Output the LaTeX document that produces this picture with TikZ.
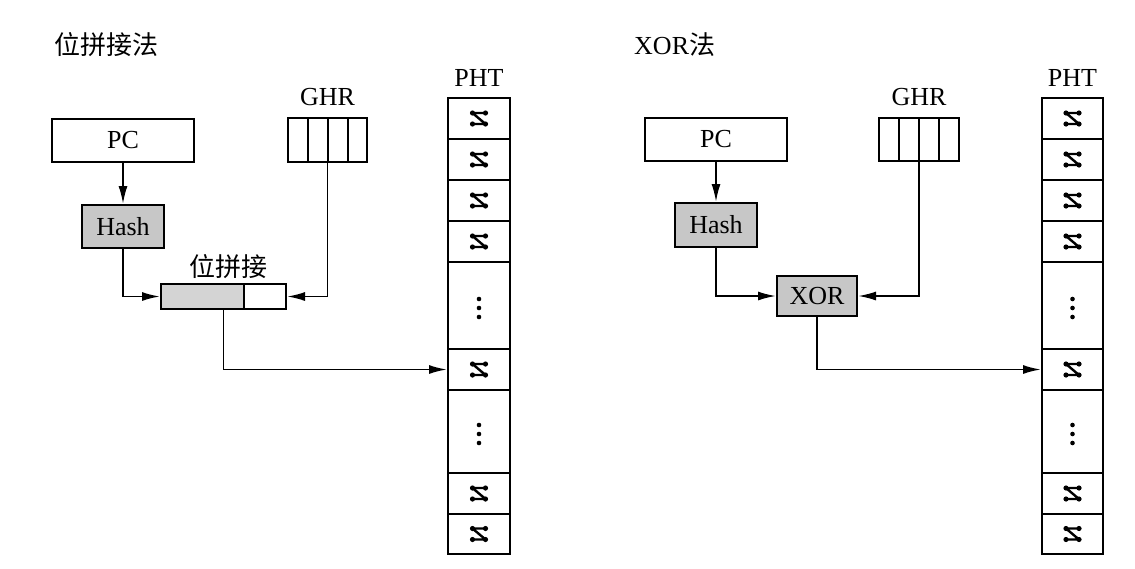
\documentclass[tikz,border=0pt]{standalone}
\usepackage{fontspec}
\setmainfont{Liberation Serif}
\newfontfamily\cjk{Noto Sans CJK SC}
\usetikzlibrary{arrows.meta}
\tikzset{
  pics/ctr/.style={code={
    \draw[line width=2.4pt] (-6.5,-5.5) -- (6.5,-5.5) (-6.5,-5.5) -- (6.5,5.5) (-6.5,5.5) -- (6.5,5.5);
    \fill (-6.5,-5.5) circle (2.6) (6.5,-5.5) circle (2.6) (-6.5,5.5) circle (2.6) (6.5,5.5) circle (2.6);
  }},
  pics/vdots/.style={code={
    \fill (0,-6.5) circle (2.3) (0,2.5) circle (2.3) (0,11.5) circle (2.3);
  }}
}
\begin{document}
\begin{tikzpicture}[x=1pt,y=-1pt,
  box/.style={draw, line width=2pt, rectangle, inner sep=0pt, font=\fontsize{26}{26}\selectfont},
  shadebox/.style={box, fill=black!22},
  cell/.style={draw, line width=2pt, rectangle, inner sep=0pt},
  arr/.style={line width=1.9pt, -{Latex[length=18pt,width=9pt]}},
  lbl/.style={font=\fontsize{26}{26}\selectfont, inner sep=0pt},
  ttl/.style={font=\cjk\fontsize{26}{26}\selectfont, inner sep=0pt, anchor=west},
  thin/.style={line width=2pt}
]
\useasboundingbox[fill=white] (0,0) rectangle (1135,568);

% ---------------- Left: concatenation ----------------
\node[ttl] (t1) at (54,45) {位拼接法};
\node[box, minimum width=142pt, minimum height=43pt] (pc1) at (123,140.5) {PC};
\node[shadebox, minimum width=82pt, minimum height=43pt] (hash1) at (123,226.5) {Hash};
\node[lbl] (ghrl1) at (327.5,97) {GHR};
\node[box, minimum width=79pt, minimum height=44pt] (ghr1) at (327.5,140) {};
\draw[thin] (307.5,118) -- (307.5,162) (327.5,118) -- (327.5,162) (347.5,118) -- (347.5,162);
\fill[black!17] (161,284) rectangle (244,309);
\node[box, minimum width=125pt, minimum height=25pt] (cat) at (223.5,296.5) {};
\draw[thin] (244,284) -- (244,309);
\node[font=\cjk\fontsize{26}{26}\selectfont, inner sep=0pt] (catl) at (228,267) {位拼接};

\node[lbl] (phtl1) at (479,78) {PHT};
\foreach \i/\c/\h in {1/118.5/41, 2/159.5/41, 3/200.5/41, 4/241.5/41, 5/305.5/87, 6/369.5/41, 7/431.5/83, 8/493.5/41, 9/534/40}{
  \node[cell, minimum width=62pt, minimum height=\h pt] (pl\i) at (479,\c) {};
}
\foreach \i in {1,2,3,4,6,8,9}{ \pic at (pl\i) {ctr}; }
\foreach \i in {5,7}{ \pic at (pl\i) {vdots}; }

\draw[arr] (pc1) -- (hash1);
\draw[arr] (hash1.south) |- (cat.west);
\draw[arr] (ghr1.south) |- (cat.east);
\draw[arr] (cat.south) |- (pl6.west);

% ---------------- Right: XOR ----------------
\node[font=\fontsize{26}{26}\selectfont, inner sep=0pt, anchor=west] (t2) at (634,45) {XOR\cjk 法};
\node[box, minimum width=142pt, minimum height=43pt] (pc2) at (716,139.5) {PC};
\node[shadebox, minimum width=82pt, minimum height=44pt] (hash2) at (716,225) {Hash};
\node[lbl] (ghrl2) at (919,97) {GHR};
\node[box, minimum width=80pt, minimum height=43pt] (ghr2) at (919,139.5) {};
\draw[thin] (899,118) -- (899,161) (919,118) -- (919,161) (939,118) -- (939,161);
\node[shadebox, minimum width=80pt, minimum height=40pt] (xor) at (817,296) {XOR};

\node[lbl] (phtl2) at (1072.5,78) {PHT};
\foreach \i/\c/\h in {1/118.5/41, 2/159.5/41, 3/200.5/41, 4/241.5/41, 5/305.5/87, 6/369.5/41, 7/431.5/83, 8/493.5/41, 9/534/40}{
  \node[cell, minimum width=61pt, minimum height=\h pt] (pr\i) at (1072.5,\c) {};
}
\foreach \i in {1,2,3,4,6,8,9}{ \pic at (pr\i) {ctr}; }
\foreach \i in {5,7}{ \pic at (pr\i) {vdots}; }

\draw[arr] (pc2) -- (hash2);
\draw[arr] (hash2.south) |- (xor.west);
\draw[arr] (ghr2.south) |- (xor.east);
\draw[arr] (xor.south) |- (pr6.west);
\end{tikzpicture}
\end{document}
